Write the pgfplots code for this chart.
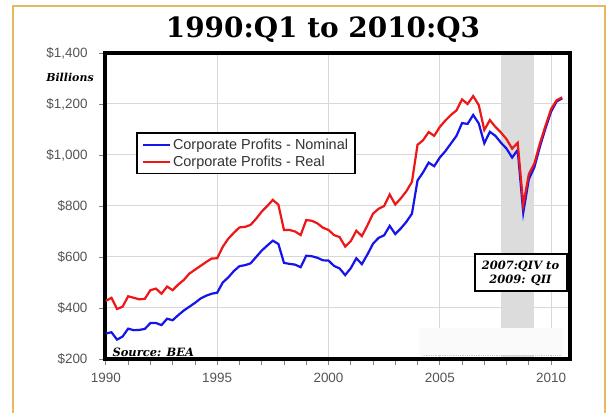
\documentclass[border=0pt]{standalone}
\usepackage{pgfplots}
\pgfplotsset{compat=1.18}
\usepackage{pgfplotstable}
\usepackage{fontspec}
\newfontfamily\arialf{Liberation Sans}
\newfontfamily\serifb{DejaVu Serif}
\definecolor{goldc}{RGB}{232,184,96}
\definecolor{nomblue}{RGB}{20,20,235}
\definecolor{realred}{RGB}{238,22,22}
\definecolor{ticktext}{RGB}{85,85,85}
\definecolor{legtext}{RGB}{50,50,50}
\definecolor{gridc}{RGB}{216,216,216}
\definecolor{shadec}{RGB}{220,220,220}

\pgfplotstableread{
x nom real
1990.00 300 428
1990.25 305 440
1990.50 276 396
1990.75 288 405
1991.00 319 446
1991.25 313 440
1991.50 314 434
1991.75 318 436
1992.00 341 470
1992.25 341 476
1992.50 333 456
1992.75 358 484
1993.00 352 470
1993.25 372 492
1993.50 390 510
1993.75 405 535
1994.00 420 550
1994.25 437 565
1994.50 448 580
1994.75 456 594
1995.00 460 595
1995.25 500 640
1995.50 520 672
1995.75 545 695
1996.00 564 716
1996.25 568 718
1996.50 575 726
1996.75 600 750
1997.00 625 778
1997.25 645 800
1997.50 664 824
1997.75 651 805
1998.00 577 706
1998.25 573 706
1998.50 570 700
1998.75 560 686
1999.00 605 745
1999.25 603 742
1999.50 597 732
1999.75 587 715
2000.00 586 706
2000.25 565 686
2000.50 555 678
2000.75 529 641
2001.00 556 662
2001.25 595 703
2001.50 572 682
2001.75 610 724
2002.00 652 770
2002.25 675 789
2002.50 685 800
2002.75 722 845
2003.00 690 806
2003.25 712 830
2003.50 738 858
2003.75 770 895
2004.00 900 1040
2004.25 932 1058
2004.50 970 1090
2004.75 956 1075
2005.00 990 1110
2005.25 1015 1135
2005.50 1045 1157
2005.75 1075 1175
2006.00 1125 1218
2006.25 1122 1200
2006.50 1157 1231
2006.75 1124 1196
2007.00 1046 1098
2007.25 1091 1137
2007.50 1075 1110
2007.75 1048 1088
2008.00 1025 1062
2008.25 990 1025
2008.50 1020 1048
2008.75 774 804
2009.00 905 925
2009.25 952 967
2009.50 1033 1046
2009.75 1105 1115
2010.00 1170 1180
2010.25 1210 1215
2010.50 1222 1226
}\profits

\begin{document}
\begin{tikzpicture}
\useasboundingbox (0bp,0bp) rectangle (616bp,413bp);
\fill[white] (0bp,0bp) rectangle (616bp,413bp);
\draw[goldc, line width=2bp] (13bp,-5bp) -- (13bp,407bp) -- (605bp,407bp) -- (605bp,-5bp);
\node[font=\serifb\bfseries\fontsize{28}{30}\selectfont] at (323bp,383bp) {1990:Q1 to 2010:Q3};
\node[font=\serifb\bfseries\itshape\fontsize{11}{12}\selectfont] at (70bp,336bp) {Billions};
\begin{axis}[
  at={(105bp,54bp)}, anchor=south west,
  scale only axis, width=465bp, height=306bp,
  xmin=1989.96, xmax=2010.85, ymin=200, ymax=1400,
  axis line style={line width=3.5bp, black},
  xtick={1990,1995,2000,2005,2010},
  xticklabels={1990,1995,2000,2005,2010},
  minor xtick={1991,1992,1993,1994,1996,1997,1998,1999,2001,2002,2003,2004,2006,2007,2008,2009},
  ytick={200,400,600,800,1000,1200,1400},
  yticklabels={\$200,\$400,\$600,\$800,{\$1,000},{\$1,200},{\$1,400}},
  xtick pos=lower, ytick pos=lower,
  tick align=outside,
  major tick length=6bp, minor tick length=6bp,
  every tick/.style={gray, line width=0.8bp},
  minor tick style={gray, line width=0.8bp},
  major grid style={gridc, line width=1bp},
  grid=major,
  ticklabel style={font=\arialf\fontsize{13.5}{15}\selectfont, text=ticktext},
  yticklabel style={xshift=-8bp},
  xticklabel style={yshift=-5bp},
  /pgf/number format/assume math mode=true,
  legend style={at={(0.0667,0.742)}, anchor=north west, draw=black, line width=1.6bp,
    fill=white, font=\arialf\fontsize{14.5}{16}\selectfont, text=legtext,
    inner xsep=5bp, inner ysep=4bp, row sep=1bp},
  legend cell align=left,
  legend image code/.code={\draw[#1, line width=2.2bp] (0bp,0bp) -- (27bp,0bp);},
]
\fill[shadec] (axis cs:2007.75,207) rectangle (axis cs:2009.25,1393);
\addplot[nomblue, line width=2.2bp] table[x=x, y=nom] {\profits};
\addlegendentry{Corporate Profits - Nominal}
\addplot[realred, line width=2.2bp] table[x=x, y=real] {\profits};
\addlegendentry{Corporate Profits - Real}
\end{axis}
\fill[white!98!black] (419bp,58bp) rectangle (563bp,85bp);
\draw[gray!40, densely dotted, line width=0.8bp] (422bp,58bp) -- (562bp,58bp);
\node[font=\serifb\bfseries\itshape\fontsize{11.5}{13}\selectfont, anchor=west] at (109bp,61bp) {Source: BEA};
\node[draw=black, line width=2bp, fill=white, align=center, inner sep=2bp,
  minimum width=92bp, minimum height=37bp,
  font=\serifb\bfseries\itshape\fontsize{11.5}{14}\selectfont] at (520.5bp,140bp) {2007:QIV to\\2009: QII};
\end{tikzpicture}
\end{document}
